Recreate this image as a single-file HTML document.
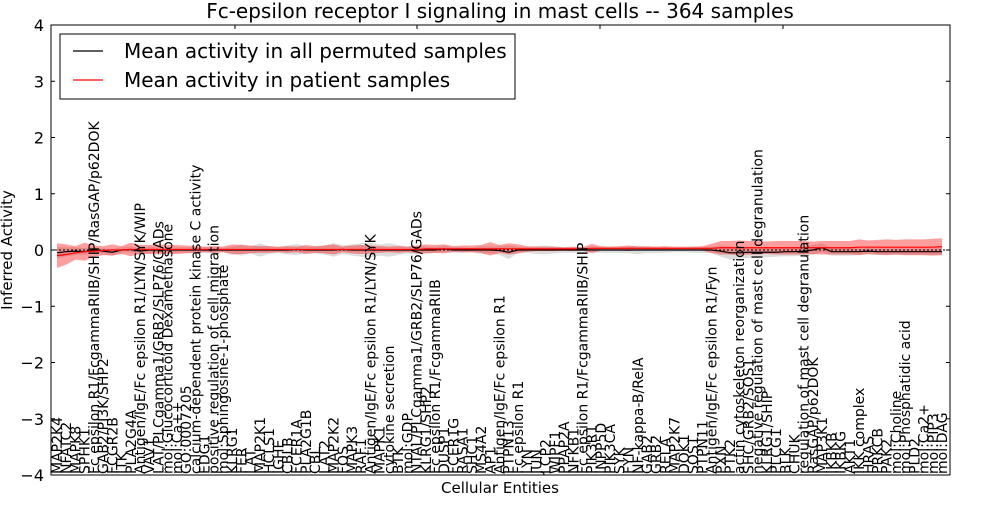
<!DOCTYPE html>
<html><head><meta charset="utf-8"><style>
body{margin:0;background:#fff;}
svg text{font-family:"DejaVu Sans","Liberation Sans",sans-serif;}
</style></head><body>
<svg id="chart" width="1000" height="500" xmlns="http://www.w3.org/2000/svg">
<rect width="1000" height="500" fill="#fff"/>
<g id="bands"></g><g id="lines"></g><g id="labels"></g>
<rect x="51" y="25" width="899" height="450" fill="none" stroke="#000" stroke-width="1"/>
<g id="yaxis"></g>
<text x="500" y="18" font-size="20" text-anchor="middle">Fc-epsilon receptor I signaling in mast cells -- 364 samples</text>
<text transform="translate(12,250) rotate(-90)" font-size="15" text-anchor="middle">Inferred Activity</text>
<text x="500" y="493" font-size="15" text-anchor="middle">Cellular Entities</text>
<g>
<rect x="60" y="34" width="455" height="65" fill="#fff" stroke="#000" stroke-width="1"/>
<line x1="73" y1="51" x2="103" y2="51" stroke="#000" stroke-width="1.2"/>
<text x="124" y="58" font-size="20">Mean activity in all permuted samples</text>
<line x1="73" y1="80" x2="103" y2="80" stroke="#f00" stroke-width="1.2"/>
<text x="124" y="87" font-size="20">Mean activity in patient samples</text>
</g>
</svg>
<script>
const categories=["MAP2K4","NFATC2","MAPK8","SPHK1","Fc epsilon R1/FcgammaRIIB/SHIP/RasGAP/p62DOK","GAB2/PI3K/SHP2","FCGR2B","ITK","PLA2G4A","Antigen/IgE/Fc epsilon R1/LYN/SYK/WIP","VAV1","LAT/PLCgamma1/GRB2/SLP76/GADs","mol:Glucocorticoid Dexamethasone","mol:Ca++","GO:0007205","calcium-dependent protein kinase C activity","EDG1","positive regulation of cell migration","mol:Sphingosine-1-phosphate","KLRG1","FER","LAT","MAP2K1","HCLS1","IGHE","CBLB","FCER1A","PLA2G1B","CBL","LAT2","MAP2K2","FOS","MAPK3","RAF1","Antigen/IgE/Fc epsilon R1/LYN/SYK","MAPK1","cytokine secretion","BTK","mol:GDP","NTAL/PLCgamma1/GRB2/SLP76/GADs","KLRG1/SHP2","Fc epsilon R1/FcgammaRIIB","DUSP1","FCER1G","RASA1","SHC1","MS4A2","AP1","Antigen/IgE/Fc epsilon R1","PTPN13","Fc epsilon R1","LYN","JUN","LCP2","WIPF1","PPAP2A","NFKB1","Fc epsilon R1/FcgammaRIIB/SHIP","PIK3R1","INPP5D","PIK3CA","SYK","FYN","NF-kappa-B/RelA","GAB2","GRB2","RELA","MAP2K7","DOK1","SOS1","PTPN11","Antigen/IgE/Fc epsilon R1/Fyn","PXN","PTK2","actin cytoskeleton reorganization","SHC/GRB2/SOS1","negative regulation of mast cell degranulation","KLRG1/SHIP","PLCG1","BLK","CHUK","regulation of mast cell degranulation","RasGAP/p62DOK","MAP3K1","IKBKB","IKBKG","AKT1","IKK complex","HRAS","PRKCB","PAK2","mol:Choline","mol:Phosphatidic acid","PLD2","mol:Ca2+","mol:PIP3","mol:DAG"];
const permMean=[-0.05,-0.03,-0.02,-0.03,0,-0.02,-0.04,0,0.01,-0.02,0,0,0,0,0,0,0,0,0,0,0,0,0,0,0,0,0.01,0,0,0,0,0.01,0,0,0,0,0,0,0,0,0,0,0.02,0,0,0,0,0,-0.01,-0.04,0,0,0,0,0,0,0,0,0,0,0,0,0,0,0,0,0,0,0,0,0,0,-0.02,-0.05,-0.05,-0.04,-0.04,-0.04,-0.04,-0.03,-0.03,-0.02,0,0.04,-0.03,-0.03,-0.03,-0.03,-0.02,-0.03,-0.03,-0.03,-0.03,-0.03,-0.03,-0.03,-0.03];
const permStd=[0.1,0.08,0.07,0.06,0.05,0.05,0.06,0.05,0.05,0.05,0.06,0.05,0.04,0.05,0.05,0.05,0.05,0.05,0.04,0.06,0.1,0.06,0.12,0.07,0.05,0.08,0.1,0.06,0.06,0.08,0.12,0.08,0.1,0.12,0.13,0.1,0.12,0.09,0.06,0.08,0.06,0.05,0.06,0.05,0.05,0.04,0.07,0.06,0.08,0.12,0.06,0.05,0.07,0.08,0.06,0.05,0.05,0.05,0.06,0.05,0.05,0.05,0.06,0.08,0.05,0.05,0.05,0.04,0.04,0.05,0.05,0.06,0.1,0.12,0.1,0.1,0.09,0.09,0.08,0.08,0.08,0.08,0.09,0.08,0.07,0.07,0.07,0.06,0.06,0.06,0.06,0.06,0.06,0.06,0.06,0.06,0.06];
const patMean=[-0.1,-0.08,-0.05,-0.03,-0.02,-0.01,0,0,0.01,0.01,0.01,0.01,0.01,0.01,0.01,0.01,0.01,0.01,0.01,0.01,0.01,0.01,0.01,0.01,0.01,0.01,0.01,0.01,0.01,0.01,0.01,0.01,0.01,0.01,0.01,0.01,0.01,0.01,0.01,0.01,0.02,0.02,0.02,0.02,0.02,0.02,0.02,0.02,0.02,0.02,0.02,0.02,0.02,0.02,0.02,0.02,0.02,0.02,0.03,0.03,0.03,0.03,0.03,0.03,0.03,0.03,0.03,0.03,0.03,0.03,0.03,0.03,0.04,0.04,0.04,0.04,0.04,0.04,0.04,0.04,0.04,0.04,0.04,0.04,0.04,0.04,0.04,0.05,0.05,0.05,0.05,0.05,0.05,0.05,0.05,0.05,0.06];
const patStd=[0.22,0.18,0.12,0.16,0.1,0.08,0.1,0.07,0.12,0.08,0.08,0.09,0.08,0.08,0.07,0.06,0.05,0.06,0.05,0.09,0.08,0.07,0.06,0.06,0.05,0.06,0.05,0.08,0.06,0.07,0.09,0.05,0.07,0.08,0.07,0.06,0.05,0.06,0.05,0.07,0.08,0.07,0.08,0.05,0.06,0.06,0.07,0.12,0.07,0.1,0.08,0.05,0.04,0.04,0.04,0.03,0.04,0.03,0.08,0.04,0.03,0.04,0.05,0.03,0.04,0.03,0.04,0.03,0.03,0.03,0.04,0.08,0.12,0.12,0.13,0.12,0.12,0.11,0.12,0.12,0.12,0.12,0.11,0.12,0.12,0.12,0.12,0.14,0.12,0.13,0.14,0.13,0.14,0.14,0.14,0.15,0.15];
const yTicks=[-4,-3,-2,-1,0,1,2,3,4];
const NS="http://www.w3.org/2000/svg";
const X0=57,X1=942,Y0=25,Y1=475;
function xs(i){return X0+i*(X1-X0)/(categories.length-1);}
function ys(v){return Y1-(v+4)*(Y1-Y0)/8;}
function mk(tag,attrs,parent){const e=document.createElementNS(NS,tag);for(const k in attrs)e.setAttribute(k,attrs[k]);parent.appendChild(e);return e;}
const bands=document.getElementById('bands'),lines=document.getElementById('lines'),labels=document.getElementById('labels'),yaxis=document.getElementById('yaxis');
function bandPath(m,s){let up=m.map((v,i)=>xs(i)+','+ys(v+s[i]));let dn=m.map((v,i)=>xs(i)+','+ys(v-s[i])).reverse();return 'M'+up.join('L')+'L'+dn.join('L')+'Z';}
function linePath(m){return 'M'+m.map((v,i)=>xs(i)+','+ys(v)).join('L');}
let b1=mk('path',{d:bandPath(permMean,permStd),fill:'#aaa','fill-opacity':0.4},bands);


let b2=mk('path',{d:bandPath(patMean,patStd),fill:'#f00','fill-opacity':0.38},bands);


let zl=mk('line',{x1:51,x2:950,y1:ys(0),y2:ys(0),stroke:'#000','stroke-dasharray':'2,2','stroke-width':1},lines);


let l1=mk('path',{d:linePath(permMean),fill:'none',stroke:'#000','stroke-width':1.2},lines);


let l2=mk('path',{d:linePath(patMean),fill:'none',stroke:'#f00','stroke-width':1.2},lines);


categories.forEach((c,i)=>{
 const t=mk('text',{transform:'translate('+(xs(i)+5)+',474) rotate(-90)','font-size':14},labels);
 
 
 t.textContent=c;
});
yTicks.forEach(v=>{
 const y=ys(v);
 const a=mk('line',{x1:51,x2:55,y1:y,y2:y,stroke:'#000'},yaxis);
 
 
 const b=mk('line',{x1:946,x2:950,y1:y,y2:y,stroke:'#000'},yaxis);
 
 
 const t=mk('text',{x:44,y:y+6,'font-size':16,'text-anchor':'end'},yaxis);
 
 
 t.textContent=(v<0?'\u2212':'')+Math.abs(v);
});
[235,417,600,783].forEach(x=>{
 const a=mk('line',{x1:x,x2:x,y1:25,y2:29,stroke:'#000'},yaxis);
 
 
});
</script>
</body></html>
